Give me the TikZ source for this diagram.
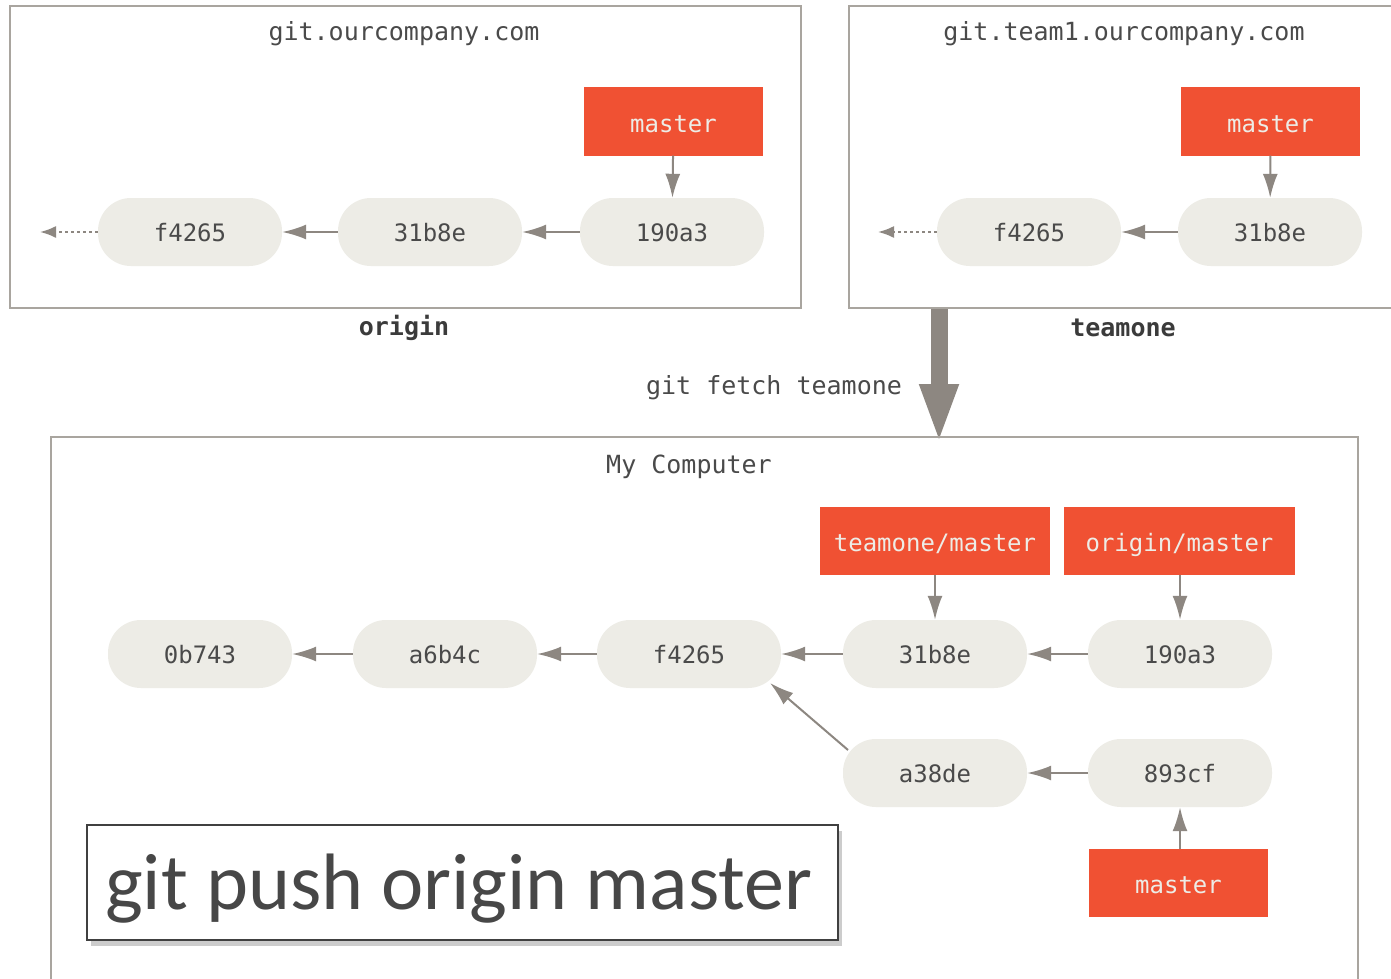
\documentclass[tikz,border=0pt]{standalone}
\usepackage{fontspec}
\setmonofont{DejaVu Sans Mono}
\newfontfamily\carlito{Carlito}
\usetikzlibrary{arrows.meta,shadows,calc}
\definecolor{pillfill}{HTML}{EDECE6}
\definecolor{txt}{HTML}{4A4A4A}
\definecolor{branch}{HTML}{F05133}
\definecolor{frame}{HTML}{A9A59F}
\definecolor{arr}{HTML}{8D8781}
\tikzset{
  commit/.style={rectangle, rounded corners=33pt, fill=pillfill, minimum width=184pt, minimum height=68pt, inner sep=0pt, text height=19pt, text depth=0pt, text=txt, font=\ttfamily\fontsize{24}{28}\selectfont},
  branchbox/.style={rectangle, fill=branch, minimum height=68pt, inner sep=0pt, text height=21.5pt, text depth=0pt, text=pillfill, font=\ttfamily\fontsize{24}{28}\selectfont},
  repo/.style={draw=frame, line width=2pt},
  title/.style={text=txt, yshift=-2.5pt, font=\ttfamily\fontsize{25}{30}\selectfont},
  reponame/.style={text=txt!80!black, yshift=-1pt, font=\ttfamily\bfseries\fontsize{25}{30}\selectfont},
  link/.style={draw=arr, line width=2pt, -{Latex[length=24pt,width=15pt]}},
  dotlink/.style={draw=arr, line width=2pt, dash pattern=on 2.5pt off 3.5pt, -{Latex[length=16pt,width=12pt]}},
}
\begin{document}
\begin{tikzpicture}[x=1pt,y=-1pt]
\useasboundingbox (0,0) rectangle (1391,979);
\clip (0,0) rectangle (1391,979);
\fill[white] (0,0) rectangle (1391,979);
% origin repo
\draw[repo] (10,6) rectangle (801,308);
\node[title] (t1) at (404,31) {git.ourcompany.com};
\node[reponame] (n1) at (404,327) {origin};
\node[branchbox, minimum width=179pt] (om) at (673.5,121.5) {master};
\node[commit] (o1) at (190,232) {f4265};
\node[commit] (o2) at (430,232) {31b8e};
\node[commit] (o3) at (672,232) {190a3};
\coordinate (oend) at (40,232);
\draw[link] (om) -- (o3);
\draw[link] (o3) -- (o2);
\draw[link] (o2) -- (o1);
\draw[dotlink] (o1) -- (oend);
% teamone repo
\draw[repo] (849,6) rectangle (1400,308);
\node[title] (t2) at (1124,31) {git.team1.ourcompany.com};
\node[reponame] (n2) at (1123,327) {teamone};
\node[branchbox, minimum width=179pt] (tm) at (1270.5,121.5) {master};
\node[commit] (p1) at (1029,232) {f4265};
\node[commit] (p2) at (1270,232) {31b8e};
\coordinate (pend) at (878,232);
\draw[link] (tm) -- (p2);
\draw[link] (p2) -- (p1);
\draw[dotlink] (p1) -- (pend);
% fetch arrow
\coordinate (fa) at (939,309);
\coordinate (fb) at (939,444);
\draw[arr, line width=17pt, -{Triangle[length=60pt,width=35pt]}] (fa) -- (fb);
\node[title] (fetch) at (774,385) {git fetch teamone};
% my computer
\draw[repo] (51,437) rectangle (1358,1000);
\node[title] (t3) at (689,464) {My Computer};
\node[branchbox, minimum width=230pt] (tom) at (935,541) {teamone/master};
\node[branchbox, minimum width=231pt] (orm) at (1179.5,541) {origin/master};
\node[commit] (c1) at (200,654) {0b743};
\node[commit] (c2) at (445,654) {a6b4c};
\node[commit] (c3) at (689,654) {f4265};
\node[commit] (c4) at (935,654) {31b8e};
\node[commit] (c5) at (1180,654) {190a3};
\node[commit] (d1) at (935,773) {a38de};
\node[commit] (d2) at (1180,773) {893cf};
\node[branchbox, minimum width=179pt] (lm) at (1178.5,883) {master};
\draw[link] (c5) -- (c4);
\draw[link] (c4) -- (c3);
\draw[link] (c3) -- (c2);
\draw[link] (c2) -- (c1);
\draw[link] (d2) -- (d1);
\draw[link] ($(d1.center)+(-87,-23)$) -- ($(c3.center)+(81,29)$);
\draw[link] (tom.south -| c4) -- (c4);
\draw[link] (orm.south -| c5) -- (c5);
\draw[link] (lm.north -| d2) -- (d2);
% command box
\node[draw=black!75, line width=1.5pt, fill=white, minimum width=751pt, minimum height=115pt, inner sep=0pt,
  drop shadow={opacity=0.4, shadow xshift=4pt, shadow yshift=-6pt}] (cmd) at (462.5,882.5) {};
\node[anchor=base west, inner sep=0pt, text=black!72, font=\carlito\fontsize{80}{90}\selectfont] (cmdtext) at (105,909) {git push origin master};
\end{tikzpicture}
\end{document}
